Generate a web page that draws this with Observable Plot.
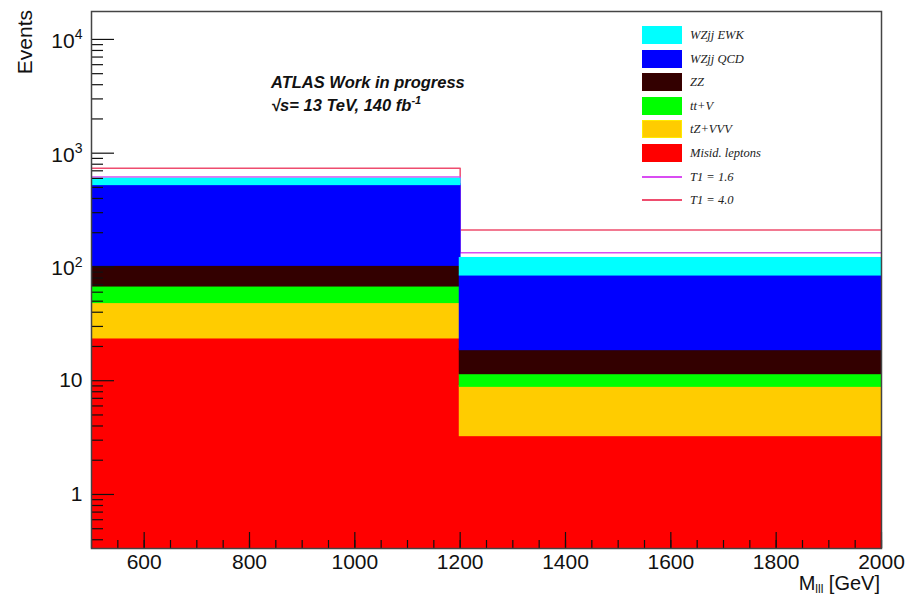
<!DOCTYPE html>
<html><head><meta charset="utf-8">
<script src="https://cdn.jsdelivr.net/npm/d3@7"></script>
<script src="https://cdn.jsdelivr.net/npm/@observablehq/plot@0.6"></script>
<style>
body{margin:0;background:#fff;}
#wrap{position:relative;width:909px;height:596px;font-family:"Liberation Sans",Arial,sans-serif;color:#111;}
#wrap svg{position:absolute;left:0;top:0;}
.leg{position:absolute;left:642px;}
.leg .row{position:absolute;left:0;height:18px;width:200px;}
.leg .box{position:absolute;left:0;top:0;width:40px;height:18px;box-sizing:border-box;}
.leg .ln{position:absolute;left:0;top:8px;width:40px;height:2px;}
.leg .lab{position:absolute;left:48px;top:0;line-height:18px;font-family:"Liberation Serif","Times New Roman",serif;font-style:italic;font-size:12.5px;color:#222;}
</style></head><body><div id="wrap"></div>
<script>
// ---- data ----
const binEdges = [500, 1200, 2000];
const processNames = ["Misid. leptons", "tZ+VVV", "tt+V", "ZZ", "WZjj QCD", "WZjj EWK"]; // stacking order, bottom to top
const processColors = ["#ff0000", "#ffcc00", "#00ff00", "#330000", "#0000ff", "#00ffff"];
const misidLeptons = [23.7, 3.28];
const tZVVV = [24.8, 5.62];
const ttV = [19.3, 2.6];
const ZZ = [35.2, 7.2];
const WZjjQCD = [425, 66];
const WZjjEWK = [63, 34.3];
const signalNames = ["T1 = 1.6", "T1 = 4.0"];
const signalColors = ["#d94cf2", "#ee4d6e"];
const T1_16 = [617, 133];
const T1_40 = [739, 211];
const xMajorTicks = [600, 800, 1000, 1200, 1400, 1600, 1800, 2000];
const xMinorTicks = d3.range(500, 2001, 50);
const yMajorTicks = [1, 10, 100, 1000, 10000];
const yTickLabels = ["1", "10", "10^2", "10^3", "10^4"];
const yMinorTicks = [0.4,0.5,0.6,0.7,0.8,0.9].concat(...[1,10,100,1000].map(d => [2,3,4,5,6,7,8,9].map(k => k*d)));
const yDomain = [0.335, 17600];

// ---- build tables ----
const series = [misidLeptons, tZVVV, ttV, ZZ, WZjjQCD, WZjjEWK];
const rects = [];
for (let b = 0; b < binEdges.length - 1; b++) {
  let lo = yDomain[0] / 10, cum = 0;
  series.forEach((s, i) => {
    cum += s[b];
    rects.push({x1: binEdges[b], x2: binEdges[b+1], y1: lo, y2: cum, color: processColors[i], name: processNames[i]});
    lo = cum;
  });
}
const stepLine = (vals) => binEdges.map((x, i) => ({x, y: vals[Math.min(i, vals.length - 1)]}));

const plot = Plot.plot({
  width: 909, height: 596,
  marginLeft: 91, marginRight: 28, marginTop: 11, marginBottom: 48,
  style: {fontFamily: '"Liberation Sans", Arial, sans-serif', background: "transparent", color: "#111"},
  x: {domain: [500, 2000]},
  y: {type: "log", domain: yDomain},
  marks: [
    Plot.lineY(stepLine(T1_40), {x: "x", y: "y", curve: "step-after", stroke: signalColors[1], strokeWidth: 1.5, clip: true}),
    Plot.lineY(stepLine(T1_16), {x: "x", y: "y", curve: "step-after", stroke: signalColors[0], strokeWidth: 1.5, clip: true}),
    Plot.rect(rects, {x1: "x1", x2: "x2", y1: "y1", y2: "y2", fill: "color", stroke: "color", strokeWidth: 1.8, clip: true}),
    Plot.axisY({ticks: yMinorTicks, tickSize: -12, tickFormat: () => "", stroke: "#111", strokeWidth: 1.2}),
    Plot.axisY({ticks: yMajorTicks, tickSize: -23, tickFormat: () => "", stroke: "#111", strokeWidth: 1.2}),
    Plot.axisY({ticks: yMajorTicks, tickSize: 0, tickPadding: 9, fontSize: 21, tickFormat: d => yTickLabels[yMajorTicks.indexOf(d)], label: null}),
    Plot.axisX({ticks: xMinorTicks, tickSize: -8, tickFormat: () => "", stroke: "#111", strokeWidth: 1.2}),
    Plot.axisX({ticks: xMajorTicks, tickSize: -16, tickFormat: () => "", stroke: "#111", strokeWidth: 1.2}),
    Plot.axisX({ticks: xMajorTicks, tickSize: 0, tickPadding: 6, fontSize: 21, label: null, tickFormat: d => String(d)}),
    Plot.frame({stroke: "#444", strokeWidth: 1.5})
  ]
});

const wrap = document.getElementById("wrap");
wrap.appendChild(plot);

// superscripts on y tick labels
d3.select(plot).selectAll('g[aria-label="y-axis tick label"] text').each(function() {
  const t = this.textContent;
  if (t.includes("^")) {
    const [base, exp] = t.split("^");
    const sel = d3.select(this);
    sel.text(null);
    sel.append("tspan").attr("dy", "0.08em").text(base);
    sel.append("tspan").attr("dy", "-0.6em").attr("font-size", 14).text(exp);
  }
});

// axis titles
const svg = d3.select(plot);
svg.append("text").attr("transform", "translate(32,10) rotate(-90)").attr("text-anchor", "end")
  .attr("font-size", 21).attr("fill", "#111").text("Events");
const xt = svg.append("text").attr("x", 880).attr("y", 590).attr("text-anchor", "end").attr("font-size", 20).attr("fill", "#111");
xt.append("tspan").text("M");
xt.append("tspan").attr("font-size", 12).attr("dy", 3).text("lll");
xt.append("tspan").attr("dy", -3).text(" [GeV]");

// annotation
const ann = svg.append("g").attr("font-weight", "bold").attr("font-style", "italic").attr("font-size", 16.5).attr("fill", "#111").attr("text-anchor", "start");
ann.append("text").attr("x", 271).attr("y", 88).text("ATLAS Work in progress");
const l2 = ann.append("text").attr("x", 271).attr("y", 111);
l2.append("tspan").text("\u221As= 13 TeV, 140 fb");
l2.append("tspan").attr("font-size", 11).attr("dy", -7).text("-1");

// legend
const legend = document.createElement("div");
legend.className = "leg";
legend.style.top = "26px";
const legendItems = processNames.map((n, i) => ({name: n, color: processColors[i], type: "box"})).reverse()
  .concat(signalNames.map((n, i) => ({name: n, color: signalColors[i], type: "line"})));
legendItems.forEach((it, i) => {
  const row = document.createElement("div");
  row.className = "row";
  row.style.top = (i * 23.6) + "px";
  const sw = document.createElement("div");
  sw.className = it.type === "box" ? "box" : "ln";
  sw.style.background = it.color;
  if (it.type === "box") sw.style.border = "1px solid " + d3.color(it.color).brighter(0.4).formatHex();
  const lab = document.createElement("div");
  lab.className = "lab";
  lab.textContent = it.name;
  row.appendChild(sw); row.appendChild(lab);
  legend.appendChild(row);
});
wrap.appendChild(legend);
</script></body></html>
